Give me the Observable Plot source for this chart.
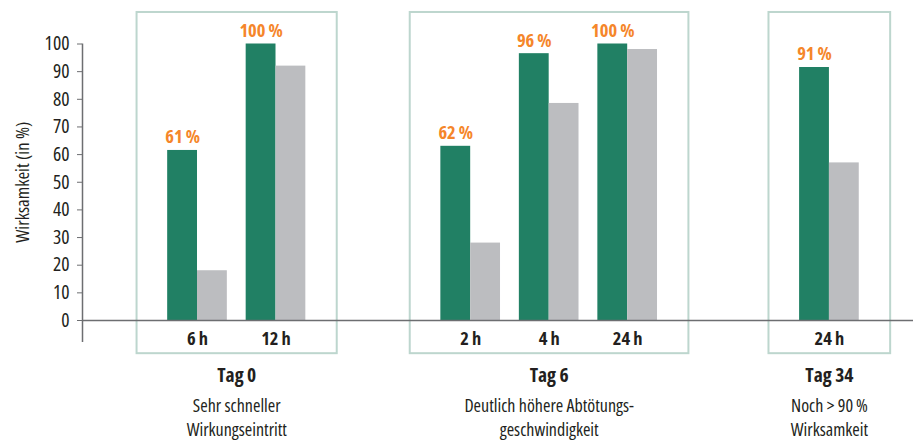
<!DOCTYPE html>
<html>
<head>
<meta charset="utf-8">
<script src="https://cdn.jsdelivr.net/npm/d3@7"></script>
<script src="https://cdn.jsdelivr.net/npm/@observablehq/plot@0.6"></script>
<style>
  html, body { margin: 0; padding: 0; background: #fff; }
  #chart svg { display: block; }
  #chart svg text { font-stretch: condensed; }
</style>
</head>
<body>
<div id="chart"></div>
<script>
// ---- data ----
const groupNames = ["Tag 0", "Tag 6", "Tag 34"];
const groupNotes = ["Sehr schneller\nWirkungseintritt", "Deutlich höhere Abtötungs-\ngeschwindigkeit", "Noch > 90\u2009%\nWirksamkeit"];
const barGroup = [0, 0, 1, 1, 1, 2];
const barTime = ["6\u2009h", "12\u2009h", "2\u2009h", "4\u2009h", "24\u2009h", "24\u2009h"];
const greenValues = [61.5, 100, 63, 96.5, 100, 91.5];
const greyValues = [18, 92, 28, 78.5, 98, 57];
const greenLabels = ["61\u2009%", "100\u2009%", "62\u2009%", "96\u2009%", "100\u2009%", "91\u2009%"];
const yTicks = [0, 10, 20, 30, 40, 50, 60, 70, 80, 90, 100];

// ---- layout (slot units) ----
const groupOffset = [0, 3.48, 8.05];
const barW = 0.38;
const xDomain = [-1.465, 9.121];

const bars = barTime.map((t, i) => {
  const g = barGroup[i];
  const idx = barGroup.slice(0, i).filter(v => v === g).length;
  return { time: t, group: g, pos: groupOffset[g] + idx, green: greenValues[i], grey: greyValues[i], label: greenLabels[i] };
});
const groups = groupNames.map((name, g) => {
  const ps = bars.filter(b => b.group === g).map(b => b.pos);
  const first = d3.min(ps), last = d3.max(ps);
  return { name, note: groupNotes[g], first, last, center: (first + last) / 2 };
});

const GREEN = "#218064", GREY = "#bcbdc0", ORANGE = "#f5862a", BOX = "#bdd6ce", AXIS = "#6d6e71", TEXT = "#231f20";
const FONT = "'Open Sans', 'Roboto Condensed', sans-serif";

const chart = Plot.plot({
  width: 913,
  height: 441,
  marginLeft: 82,
  marginRight: 0,
  marginTop: 43.5,
  marginBottom: 121,
  style: `font-family: ${FONT}; font-stretch: condensed; background: #fff; color: ${TEXT};`,
  x: { type: "linear", domain: xDomain, axis: null },
  y: { domain: [0, 100], axis: null },
  marks: [
    Plot.rect(groups, { x1: d => d.first - 0.77, x2: d => d.last + 0.78, y1: -12, y2: 111.4, fill: "none", stroke: BOX, strokeWidth: 2 }),
    Plot.rectY(bars, { x1: d => d.pos - barW, x2: d => d.pos, y: "green", fill: GREEN }),
    Plot.rectY(bars, { x1: d => d.pos, x2: d => d.pos + barW, y: "grey", fill: GREY }),
    Plot.ruleY([0], { stroke: AXIS, strokeWidth: 1.5 }),
    Plot.ruleX([xDomain[0]], { y1: -8, y2: 100, stroke: AXIS, strokeWidth: 1.5 }),
    Plot.axisY({ ticks: yTicks, tickSize: 5, tickPadding: 8, fontSize: 19.5, label: null, stroke: AXIS, fill: TEXT, tickFormat: d => String(d) }),
    Plot.text(["Wirksamkeit (in\u00a0%)"], { frameAnchor: "left", dx: -59, rotate: -90, textAnchor: "middle", lineAnchor: "middle", fontSize: 18.5, fill: TEXT }),
    Plot.text(bars, { x: d => d.pos - barW / 2, y: "green", text: "label", dy: -13, fill: ORANGE, fontWeight: "bold", fontSize: 18.5 }),
    Plot.text(bars, { x: "pos", text: "time", frameAnchor: "bottom", lineAnchor: "middle", dy: 19, fontWeight: "bold", fontSize: 18.5, fill: TEXT }),
    Plot.text(groups, { x: "center", text: "name", frameAnchor: "bottom", lineAnchor: "middle", dy: 55, fontWeight: "bold", fontSize: 19.5, fill: TEXT }),
    Plot.text(groups, { x: "center", text: "note", frameAnchor: "bottom", lineAnchor: "middle", dy: 96, fontSize: 18, lineHeight: 23.5 / 18, fill: TEXT })
  ]
});
document.getElementById("chart").appendChild(chart);
</script>
</body>
</html>
